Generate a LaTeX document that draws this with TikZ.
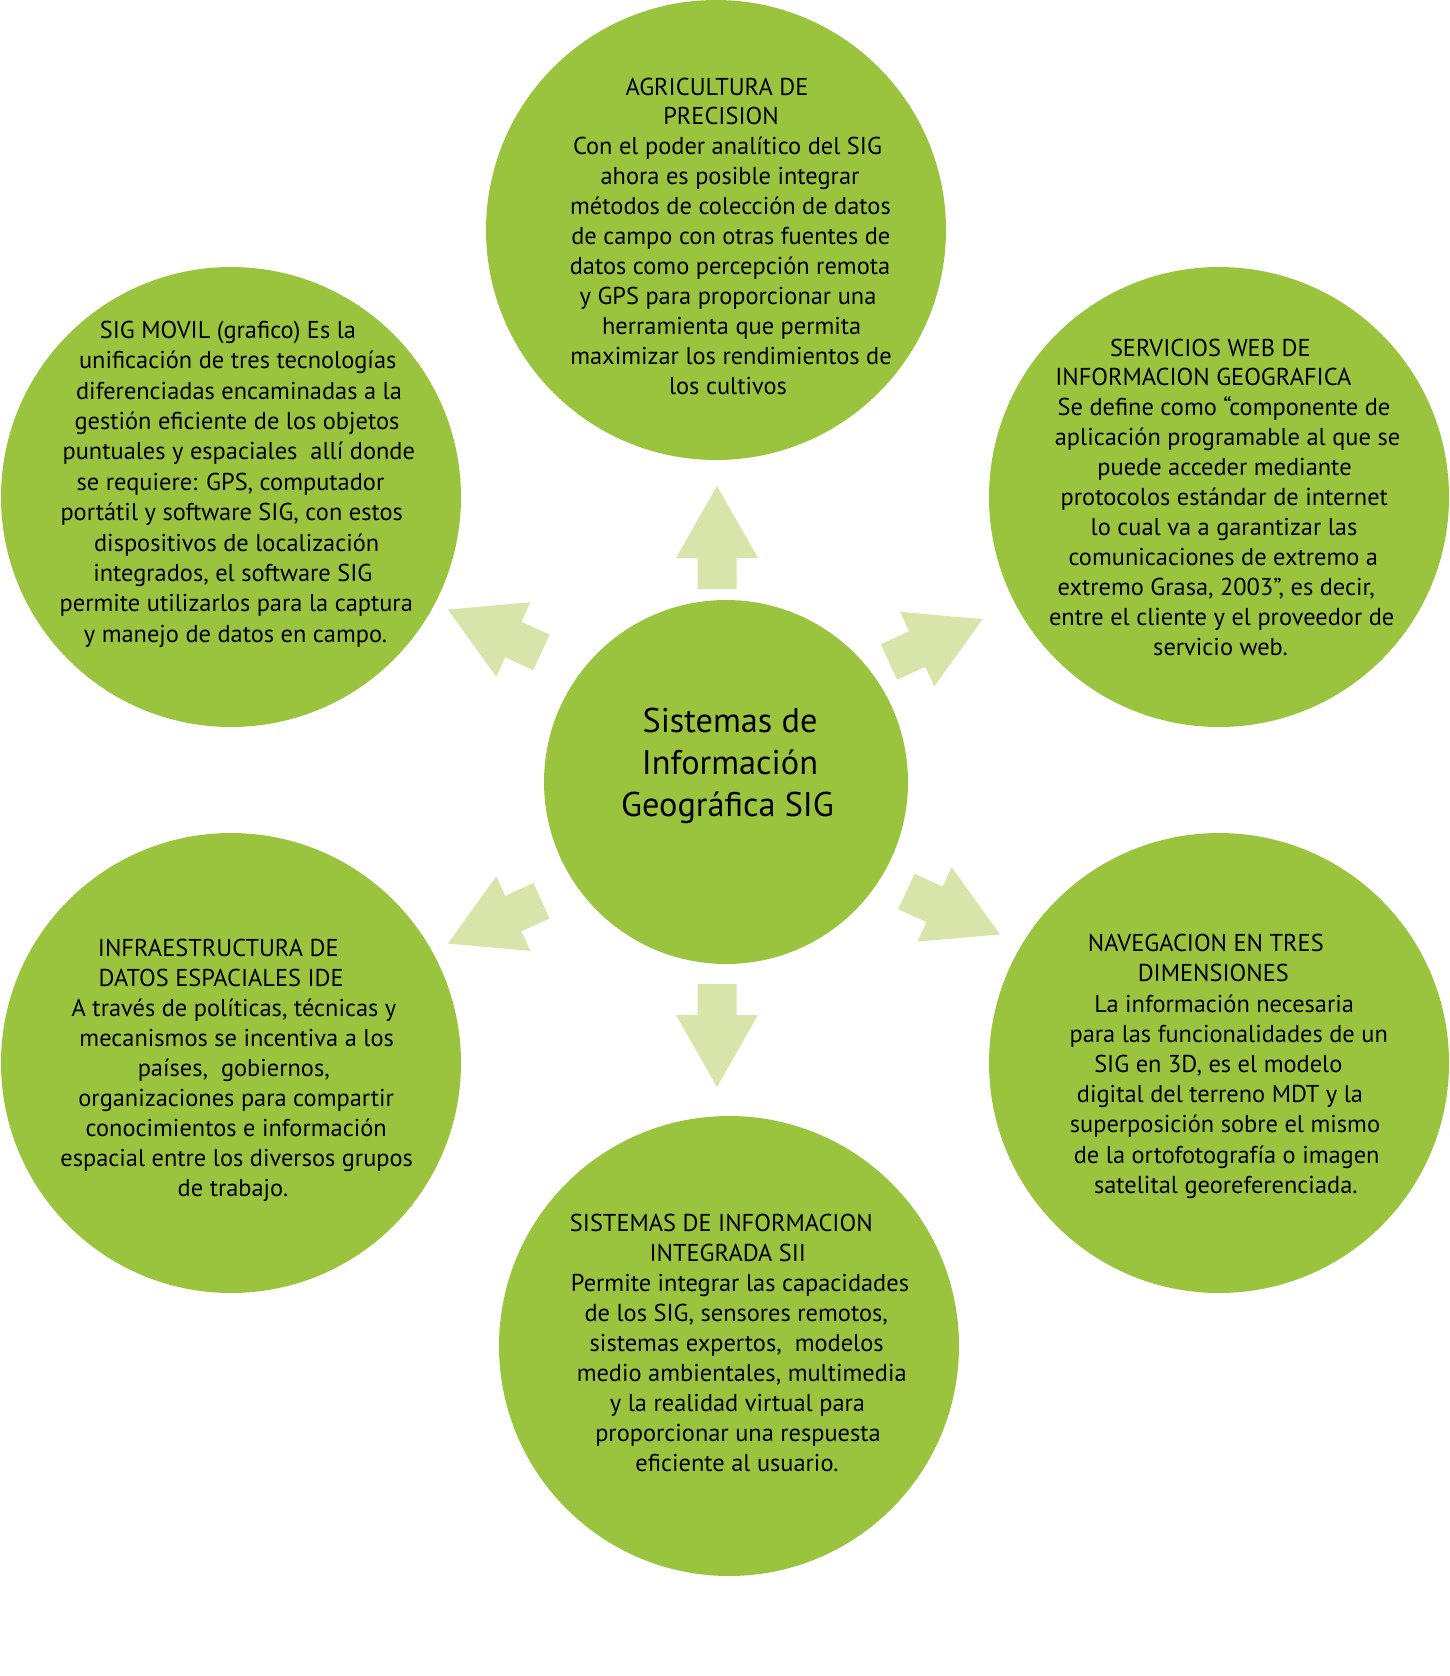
\documentclass[tikz,border=0pt]{standalone}
\usepackage{fontspec}
\setmainfont{PT Sans}
\definecolor{leaf}{HTML}{9BC43E}
\definecolor{pale}{HTML}{D8E5AA}
\tikzset{
  bubble/.style={circle, fill=leaf, draw=none, inner sep=0pt, minimum size=#1},
  ln/.style={anchor=base, inner sep=0pt, text=black, font=\fontsize{24.4}{30}\selectfont},
  coretext/.style={anchor=base, inner sep=0pt, text=black, font=\fontsize{34.3}{41.7}\selectfont},
  blockarrow/.style={fill=pale, draw=none},
}
\newcommand\blockarr[3]{%
  \fill[blockarrow, shift={(#1,#2)}, rotate=#3]
    (0,-19.5) -- (31,-19.5) -- (31,-41) -- (103,0) -- (31,41) -- (31,19.5) -- (0,19.5) -- cycle;}
\begin{document}
\begin{tikzpicture}[x=1pt, y=-1pt]
\useasboundingbox (0,0) rectangle (1449,1676);
% circles
\node[bubble=460pt] (agr) at (716,230) {};
\node[bubble=460pt] (mov) at (231,497) {};
\node[bubble=460pt] (web) at (1219,497) {};
\node[bubble=460pt] (ide) at (231,1063) {};
\node[bubble=460pt] (nav) at (1219,1063) {};
\node[bubble=460pt] (sii) at (729,1346) {};
\node[bubble=364pt] (core) at (726,782) {};
% block arrows
\blockarr{717}{589}{90}
\blockarr{717}{984}{-90}
\blockarr{889}{662}{24.6}
\blockarr{541.5}{652.4}{155.4}
\blockarr{541.5}{900.7}{-155.4}
\blockarr{906.4}{891.5}{-24.6}
% centre text
\foreach \px/\txt [count=\i from 0] in {730/{Sistemas de}, 730/{Información}, 727.5/{Geográfica SIG}}
  \node[coretext] (core\i) at (\px, 732.7+41.65*\i) {\txt};
% top
\foreach \px/\txt [count=\i from 0] in {
  717/{AGRICULTURA DE},
  721/{PRECISION},
  727.5/{Con el poder analítico del SIG},
  730/{ahora es posible integrar},
  730.5/{métodos de colección de datos},
  730.8/{de campo con otras fuentes de},
  730/{datos como percepción remota},
  728/{y GPS para proporcionar una},
  731.7/{herramienta que permita},
  731/{maximizar los rendimientos de},
  728/{los cultivos}}
  \node[ln] (agr\i) at (\px, 95+29.9*\i) {\txt};
% top left
\foreach \px/\txt [count=\i from 0] in {
  228/{SIG MOVIL (grafico) Es la},
  237.7/{unificación de tres tecnologías},
  239/{diferenciadas encaminadas a la},
  237/{gestión eficiente de los objetos},
  238.8/{puntuales y espaciales\ \ allí donde},
  230.5/{se requiere: GPS, computador},
  231.7/{portátil y software SIG, con estos},
  236.7/{dispositivos de localización},
  232.8/{integrados, el software SIG},
  236.3/{permite utilizarlos para la captura},
  235.5/{y manejo de datos en campo.}}
  \node[ln] (mov\i) at (\px, 338.3+30.4*\i) {\txt};
% top right
\foreach \px/\txt [count=\i from 0] in {
  1210.3/{SERVICIOS WEB DE},
  1203.3/{INFORMACION GEOGRAFICA},
  1224/{Se define como “componente de},
  1227.5/{aplicación programable al que se},
  1224.5/{puede acceder mediante},
  1224.3/{protocolos estándar de internet},
  1224/{lo cual va a garantizar las},
  1223.3/{comunicaciones de extremo a},
  1216.3/{extremo Grasa, 2003”, es decir,},
  1221.7/{entre el cliente y el proveedor de},
  1220.5/{servicio web.}}
  \node[ln] (web\i) at (\px, 356+29.9*\i) {\txt};
% bottom left
\foreach \px/\txt [count=\i from 0] in {
  218.3/{INFRAESTRUCTURA DE},
  221.2/{DATOS ESPACIALES IDE},
  234/{A través de políticas, técnicas y},
  236.7/{mecanismos se incentiva a los},
  233.8/{países,\ \ gobiernos,},
  236.2/{organizaciones para compartir},
  236.2/{conocimientos e información},
  236.7/{espacial entre los diversos grupos},
  233/{de trabajo.}}
  \node[ln] (ide\i) at (\px, 956+30.1*\i) {\txt};
% bottom right
\foreach \px/\txt [count=\i from 0] in {
  1205.8/{NAVEGACION EN TRES},
  1213.3/{DIMENSIONES},
  1224.2/{La información necesaria},
  1228.7/{para las funcionalidades de un},
  1218.3/{SIG en 3D, es el modelo},
  1220/{digital del terreno MDT y la},
  1225/{superposición sobre el mismo},
  1226.7/{de la ortofotografía o imagen},
  1225.8/{satelital georeferenciada.}}
  \node[ln] (nav\i) at (\px, 951.7+30.2*\i) {\txt};
% bottom
\foreach \px/\txt [count=\i from 0] in {
  721.3/{SISTEMAS DE INFORMACION},
  727.8/{INTEGRADA SII},
  740/{Permite integrar las capacidades},
  736.2/{de los SIG, sensores remotos,},
  736.7/{sistemas expertos,\ \ modelos},
  741.7/{medio ambientales, multimedia},
  737.5/{y la realidad virtual para},
  738/{proporcionar una respuesta},
  737/{eficiente al usuario.}}
  \node[ln] (sii\i) at (\px, 1231+30.1*\i) {\txt};
\end{tikzpicture}
\end{document}
